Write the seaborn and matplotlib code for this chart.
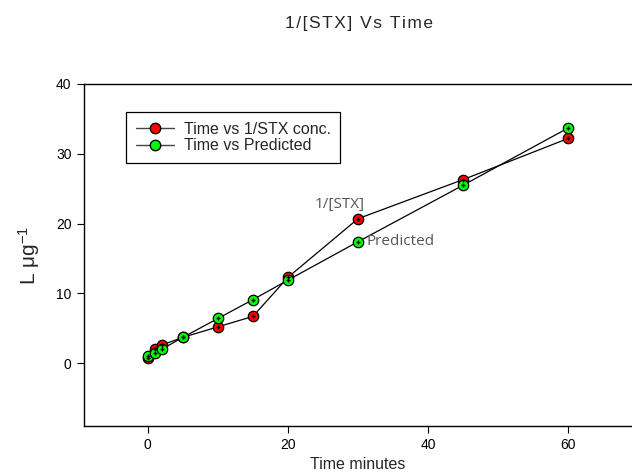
import matplotlib
matplotlib.use("Agg")
import matplotlib.pyplot as plt
from matplotlib.lines import Line2D
import seaborn as sns
import pandas as pd

# Sampling times (minutes)
time_min = [0, 1, 2, 5, 10, 15, 20, 30, 45, 60]
# Measured 1/[STX] (L ug^-1)
inv_stx = [0.7, 2.0, 2.6, 3.7, 5.2, 6.7, 12.3, 20.7, 26.3, 32.2]
# Model prediction (L ug^-1)
predicted = [1.0, 1.4, 2.0, 3.7, 6.4, 9.1, 11.9, 17.4, 25.5, 33.7]

x_ticks = [0, 20, 40, 60]
y_ticks = [0, 10, 20, 30, 40]

sns.set_theme(style="white")
plt.rcParams["font.family"] = ["Liberation Sans", "DejaVu Sans"]

fig = plt.figure(figsize=(6.32, 4.75), dpi=100)
ax = fig.add_axes([0.133, 0.1032, 0.867, 0.72])

df_meas = pd.DataFrame({"t": time_min, "v": inv_stx})
df_pred = pd.DataFrame({"t": time_min, "v": predicted})

series = [(df_meas, "#ff0000"), (df_pred, "#00ff00")]
for df, fc in series:
    sns.lineplot(data=df, x="t", y="v", ax=ax, color="black", linewidth=0.9,
                 sort=False, marker="o", markersize=7.5,
                 markeredgecolor="black", markeredgewidth=0.9)
    ln = ax.lines[-1]
    ln.set_markerfacecolor(fc)
    ln.set_markeredgecolor("black")
    sns.scatterplot(data=df, x="t", y="v", ax=ax, marker="+", s=8,
                    color="black", linewidth=1.0, zorder=5)

ax.set_xlim(-9.1, 69.1)
ax.set_ylim(-9, 40)
ax.set_xticks(x_ticks)
ax.set_yticks(y_ticks)
ax.tick_params(axis="both", direction="out", length=5, width=0.8,
               labelsize=10, colors="black", bottom=True, left=True, pad=4)
for side in ["left", "bottom", "top"]:
    ax.spines[side].set_color("black")
    ax.spines[side].set_linewidth(1.0)
ax.spines["right"].set_visible(False)

ax.set_xlabel("Time minutes", fontsize=11.5, labelpad=3)
ax.set_ylabel(r"L $\mathregular{\mu g^{-1}}$", fontsize=15, labelpad=10)

# Slightly letter-spaced title
title = "1/[STX] Vs Time"
fig.text(0.568, 0.95, "\u200a".join(title), ha="center", va="center",
         fontsize=12.5)

note_font = ["Open Sans", "DejaVu Sans"]
ax.text(time_min[7] + 0.9, inv_stx[7] + 0.9, "1/[STX]", ha="right",
        va="bottom", fontsize=11, color="#555555", family=note_font)
ax.text(time_min[7] + 1.2, predicted[7], "Predicted", ha="left", va="center",
        fontsize=11, color="#555555", family=note_font)

handles = [
    Line2D([0], [0], color="#444444", linewidth=1.0, marker="o", markersize=7.5,
           markerfacecolor="#ff0000", markeredgecolor="black"),
    Line2D([0], [0], color="#444444", linewidth=1.0, marker="o", markersize=7.5,
           markerfacecolor="#00ff00", markeredgecolor="black"),
]
leg = ax.legend(handles, ["Time vs 1/STX conc.", "Time vs Predicted"],
                loc="upper left", bbox_to_anchor=(0.077, 0.918), fontsize=11.5,
                frameon=True, fancybox=False, framealpha=1, handlelength=2.4,
                borderpad=0.6, labelspacing=0.1, handletextpad=0.6,
                borderaxespad=0)
leg.get_frame().set_edgecolor("black")
leg.get_frame().set_linewidth(0.9)

fig.savefig("out.png", dpi=100)
